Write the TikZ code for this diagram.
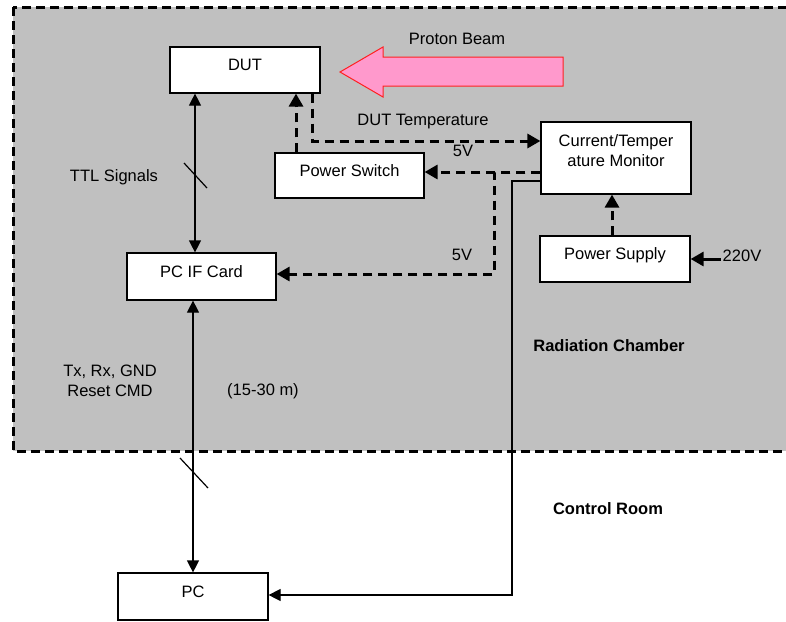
\documentclass[tikz,border=0pt]{standalone}
\usepackage{fontspec}
\setmainfont{Liberation Sans}
\usetikzlibrary{arrows.meta,calc}
\definecolor{chamber}{HTML}{C0C0C0}
\definecolor{beamfill}{HTML}{FF99CC}
\definecolor{beamline}{HTML}{FF2020}
\begin{document}
\begin{tikzpicture}[x=1pt,y=-1pt,
  font=\fontsize{16.5}{20}\selectfont,
  box/.style={draw, fill=white, line width=1.2pt, inner sep=0pt,
    minimum width=150pt, minimum height=46pt, text height=11.8pt, text depth=10pt},
  lbl/.style={inner sep=2pt, align=center},
  tip/.style={-{Triangle[length=12pt,width=12pt]}},
  thinarrow/.style={line width=1.2pt, tip},
  dbl/.style={line width=1.2pt, {Triangle[length=12pt,width=12pt]}-{Triangle[length=12pt,width=12pt]}},
  dasharrow/.style={line width=3pt, dash pattern=on 9pt off 6pt, -{Triangle[length=13pt,width=14pt]}},
  boldarrow/.style={line width=3pt, -{Triangle[length=13pt,width=14pt]}},
  slash/.style={line width=1.2pt}
]
\clip (0,0) rectangle (786,621);
\useasboundingbox (0,0) rectangle (786,621);
\fill[white] (0,0) rectangle (786,621);

% radiation chamber
\draw[fill=chamber, line width=3pt, dash pattern=on 9pt off 5pt] (13,7) rectangle (810,451);

% proton beam
\draw[fill=beamfill, draw=beamline, line width=1pt]
  (340,72) -- (383,47) -- (383,57) -- (563,57) -- (563,86) -- (383,86) -- (383,97) -- cycle;
\node[lbl] (beamlbl) at (457,39) {Proton Beam};

% boxes
\node[box] (dut) at (245,70) {DUT};
\node[box, minimum width=149pt, minimum height=45pt] (psw) at (349.5,175.5) {Power Switch};
\node[box, minimum height=72pt] (mon) at (616,158) {};
\node[lbl, font=\fontsize{16.5}{20}\selectfont] (monlbl) at (616,151) {Current/Temper\\ature Monitor};
\node[box, minimum width=149pt, minimum height=47pt] (ifc) at (201.5,276.5) {PC IF Card};
\node[box] (sup) at (615,259) {Power Supply};
\node[box, minimum height=47pt] (pc) at (193,596.5) {PC};

% labels
\node[lbl] (dutt) at (423,122) {DUT Temperature};
\node[lbl] (v5a) at (463,151) {5V};
\node[lbl] (v5b) at (462,255) {5V};
\node[lbl] (ttl) at (114,177) {TTL Signals};
\node[lbl] (txrx) at (110,381) {Tx, Rx, GND\\Reset CMD};
\node[lbl] (len) at (263,391) {(15-30 m)};
\node[lbl] (v220) at (742,256) {220V};
\node[lbl, font=\fontsize{16.5}{20}\selectfont\bfseries] (rad) at (609,346) {Radiation Chamber};
\node[lbl, font=\fontsize{16.5}{20}\selectfont\bfseries] (ctrl) at (608,509) {Control Room};

% connector coordinates
\coordinate (ttlx) at (195,0);
\coordinate (cabx) at (193,0);
\coordinate (pswx) at (296,0);
\coordinate (tmp) at (312,141);
\coordinate (j5) at (494,172);
\coordinate (j5b) at (494,274);
\coordinate (s1) at (512,181);
\coordinate (s2) at (512,595);
\coordinate (supx) at (612,0);

% connectors
\draw[dbl] (dut.south -| ttlx) -- (ifc.north -| ttlx);
\draw[slash] (184,163) -- (207,188);
\draw[dbl] (ifc.south -| cabx) -- (pc.north -| cabx);
\draw[slash] (180,458) -- (208,488);

\draw[dasharrow] (psw.north -| pswx) -- (dut.south -| pswx);
\draw[dasharrow] (dut.south -| tmp) -- (tmp) -- (tmp -| mon.west);
\draw[dasharrow] (j5 -| mon.west) -- (j5 -| psw.east);
\draw[dasharrow] (j5 -| mon.west) -- (j5) -- (j5b) -- (j5b -| ifc.east);
\draw[thinarrow] (s1 -| mon.west) -- (s1) -- (s2) -- (s2 -| pc.east);
\draw[dasharrow] (sup.north -| supx) -- (mon.south -| supx);
\draw[boldarrow] (sup.east -| v220.west) -- (sup.east);
\end{tikzpicture}
\end{document}
